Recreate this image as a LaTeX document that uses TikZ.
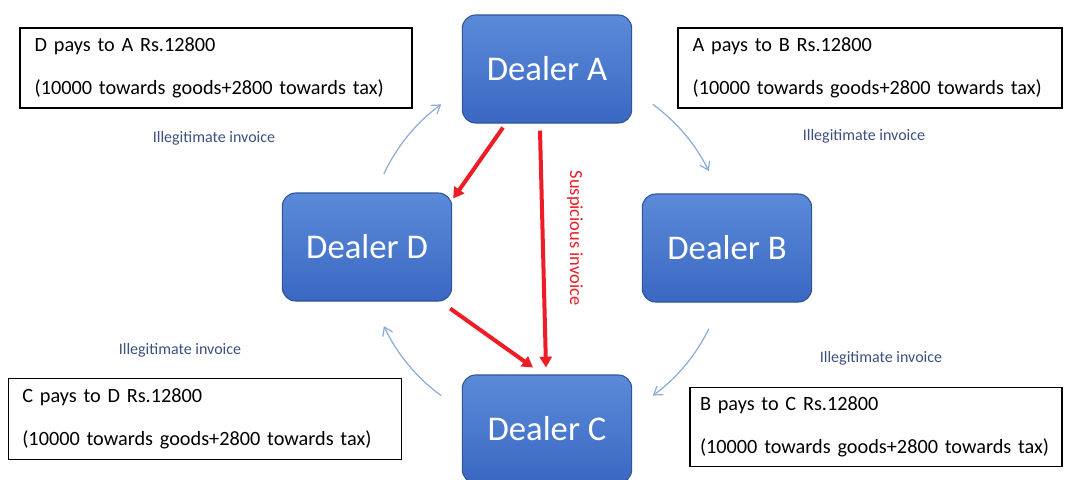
\documentclass[tikz,border=0pt]{standalone}
\usepackage{fontspec}
\setmainfont{Carlito}
\usetikzlibrary{arrows.meta, positioning, calc}
\definecolor{DealerTop}{HTML}{5B8AD9}
\definecolor{DealerBottom}{HTML}{3A68C2}
\definecolor{DealerEdge}{HTML}{2F5597}
\definecolor{InvoiceBlue}{HTML}{3C5080}
\definecolor{FlowBlue}{HTML}{8EAADB}
\definecolor{AlertRed}{HTML}{EE1C25}

\begin{document}
\begin{tikzpicture}[x=0.75pt, y=-0.75pt,
    dealer/.style={draw=DealerEdge, line width=0.8pt, rounded corners=10pt, top color=DealerTop, bottom color=DealerBottom, minimum width=127pt, minimum height=81pt, text=white, font=\fontsize{26}{30}\selectfont},
    notebox/.style={draw=black, line width=0.8pt, align=left, inner sep=0pt, font=\fontsize{15.2}{17}\selectfont},
    illegit/.style={text=InvoiceBlue, font=\fontsize{12}{14}\selectfont},
    flow/.style={draw=FlowBlue, line width=0.9pt, -{Straight Barb[length=6pt, width=8pt]}},
    alert/.style={draw=AlertRed, line width=3pt, -{Triangle[length=8pt, width=9pt]}}]
    \clip (0,0) rectangle (1071,479);
    \fill[white] (0,0) rectangle (1071,479);

    % Dealers
    \node[dealer] (A) at (547,69) {Dealer A};
    \node[dealer] (D) at (367,247) {Dealer D};
    \node[dealer] (B) at (727,248) {Dealer B};
    \node[dealer] (C) at (547,429) {Dealer C};
    \coordinate (hub) at (547,250);

    % Payment notes
    \node[notebox, minimum width=294pt, minimum height=60pt, text width=272pt] (noteDA) at (216,68) {D pays to A Rs.12800\\[15pt](10000 towards goods+2800 towards tax)};
    \node[notebox, minimum width=288pt, minimum height=60pt, text width=266pt] (noteAB) at (870,68) {A pays to B Rs.12800\\[15pt](10000 towards goods+2800 towards tax)};
    \node[notebox, minimum width=295pt, minimum height=61pt, text width=274pt] (noteCD) at (205,419) {C pays to D Rs.12800\\[15pt](10000 towards goods+2800 towards tax)};
    \node[notebox, minimum width=279pt, minimum height=59pt, text width=264pt] (noteBC) at (876,427) {B pays to C Rs.12800\\[15pt](10000 towards goods+2800 towards tax)};

    \node[illegit] (invDA) at (214,138) {Illegitimate invoice};
    \node[illegit] (invAB) at (864,136) {Illegitimate invoice};
    \node[illegit] (invCD) at (180,350) {Illegitimate invoice};
    \node[illegit] (invBC) at (881,358) {Illegitimate invoice};
    \node[rotate=-90, text=AlertRed, font=\fontsize{13.8}{16}\selectfont] (susp) at (575,238) {Suspicious invoice};

    % Arrows
    \draw[flow] ($(hub)+(-155:180)$) arc[start angle=-155, end angle=-126, radius=180];
    \draw[flow] ($(hub)+(-54:180)$) arc[start angle=-54, end angle=-26, radius=180];
    \draw[flow] ($(hub)+(26:180)$) arc[start angle=26, end angle=54, radius=180];
    \draw[flow] ($(hub)+(126:180)$) arc[start angle=126, end angle=155, radius=180];

    \draw[alert] ($(A.south)+(-44,4)$) -- ($(D.north east)+(1,6)$);
    \draw[alert] ($(D.south east)+(-2,7)$) -- ($(C.north)+(-14,-7)$);
    \draw[alert] ($(A.south)+(-7,7)$) -- ($(C.north)+(-1,-7)$);
\end{tikzpicture}
\end{document}
